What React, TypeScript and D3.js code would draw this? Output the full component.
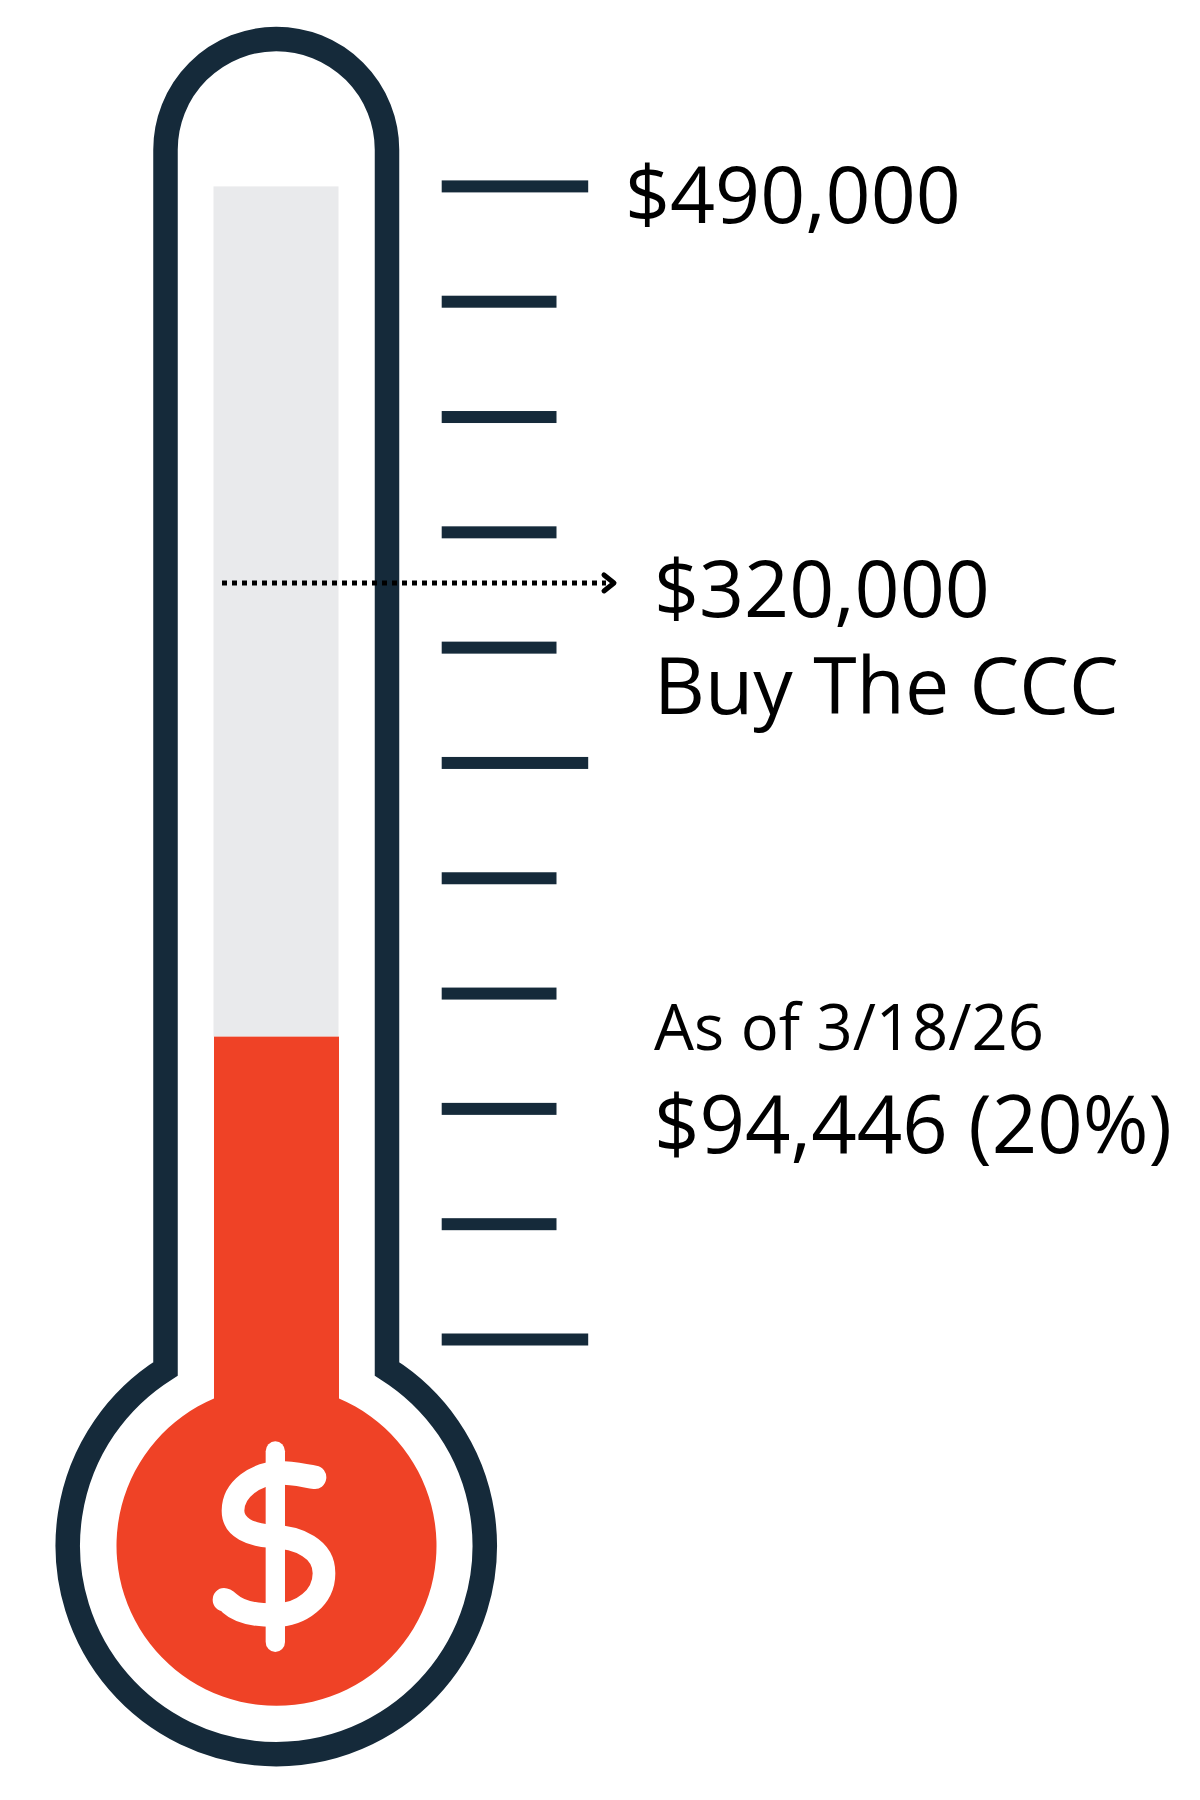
import React from "react";
import * as d3 from "d3";

const tickValues = [0, 49000, 98000, 147000, 196000, 245000, 294000, 343000, 392000, 441000, 490000];
const majorTicks = [0, 245000, 490000];
const fillLevel = [128700];
const goalLevel = [321500];
const topLabel = ["$490,000"];
const goalLabels = ["$320,000", "Buy The CCC"];
const asOfLabel = ["As of 3/18/26"];
const raisedLabel = ["$94,446 (20%)"];

const NAVY = "#152a3a";
const RED = "#ef4226";
const GREY = "#e9eaec";
const FONT = "'Open Sans', sans-serif";

const y = d3.scaleLinear().domain([0, 490000]).range([1339.5, 186.4]);

const shell =
  "M165.5 1369 V149.7 A110.7 110.7 0 0 1 387 149.7 V1369 " +
  "A208.5 208.5 0 1 1 165.5 1369 Z";

const bulb = "M214 1398.5 A160 160 0 1 0 339 1398.5 V1300 H214 Z";

const dollarS =
  "M855 628 C825 624 790 615 745 615 C680 618 609 660 609 725 " +
  "C609 775 665 794 720 798 C810 802 882 835 882 905 " +
  "C882 975 815 1026 735 1027 C665 1027 625 1015 600 993 C592 986 588 982 582 982";

export default function App() {
  return (
    <svg
      width={1200}
      height={1800}
      viewBox="0 0 1200 1800"
      style={{ position: "absolute", left: 0, top: 0, display: "block", background: "#fff" }}
    >
      <rect x={213.5} y={y(490000)} width={125} height={y(fillLevel[0]) - y(490000)} fill={GREY} />
      <rect x={214} y={y(fillLevel[0])} width={125} height={1320 - y(fillLevel[0])} fill={RED} />
      <path d={bulb} fill={RED} />
      <path d={shell} fill="none" stroke={NAVY} strokeWidth={24.5} strokeLinejoin="miter" />

      {tickValues.map((v) => (
        <rect
          key={v}
          x={441.7}
          y={y(v) - 6}
          width={majorTicks.includes(v) ? 146.5 : 114.8}
          height={12}
          fill={NAVY}
        />
      ))}

      <g transform="translate(30,1260) scale(0.33333,0.346)" fill="none" stroke="#fff" strokeLinecap="round" strokeLinejoin="round">
        <path d="M736 553 V1104" strokeWidth={58} />
        <path d={dollarS} strokeWidth={68} />
      </g>

      <line x1={222} x2={606} y1={y(goalLevel[0])} y2={y(goalLevel[0])} stroke="#000" strokeWidth={5} strokeDasharray="5 5" />
      <path
        d={`M604 ${y(goalLevel[0]) - 8} L614 ${y(goalLevel[0])} L604 ${y(goalLevel[0]) + 8}`}
        fill="none"
        stroke="#000"
        strokeWidth={5}
        strokeLinecap="round"
        strokeLinejoin="round"
      />

      <g fontFamily={FONT} fill="#000">
        <text x={625} y={223} fontSize={78.8}>{topLabel[0]}</text>
        <text x={654} y={617} fontSize={78.8}>{goalLabels[0]}</text>
        <text x={654} y={714} fontSize={78.8}>{goalLabels[1]}</text>
        <text x={654} y={1050} fontSize={63.3}>{asOfLabel[0]}</text>
        <text x={654} y={1153} fontSize={79.6}>{raisedLabel[0]}</text>
      </g>
    </svg>
  );
}
